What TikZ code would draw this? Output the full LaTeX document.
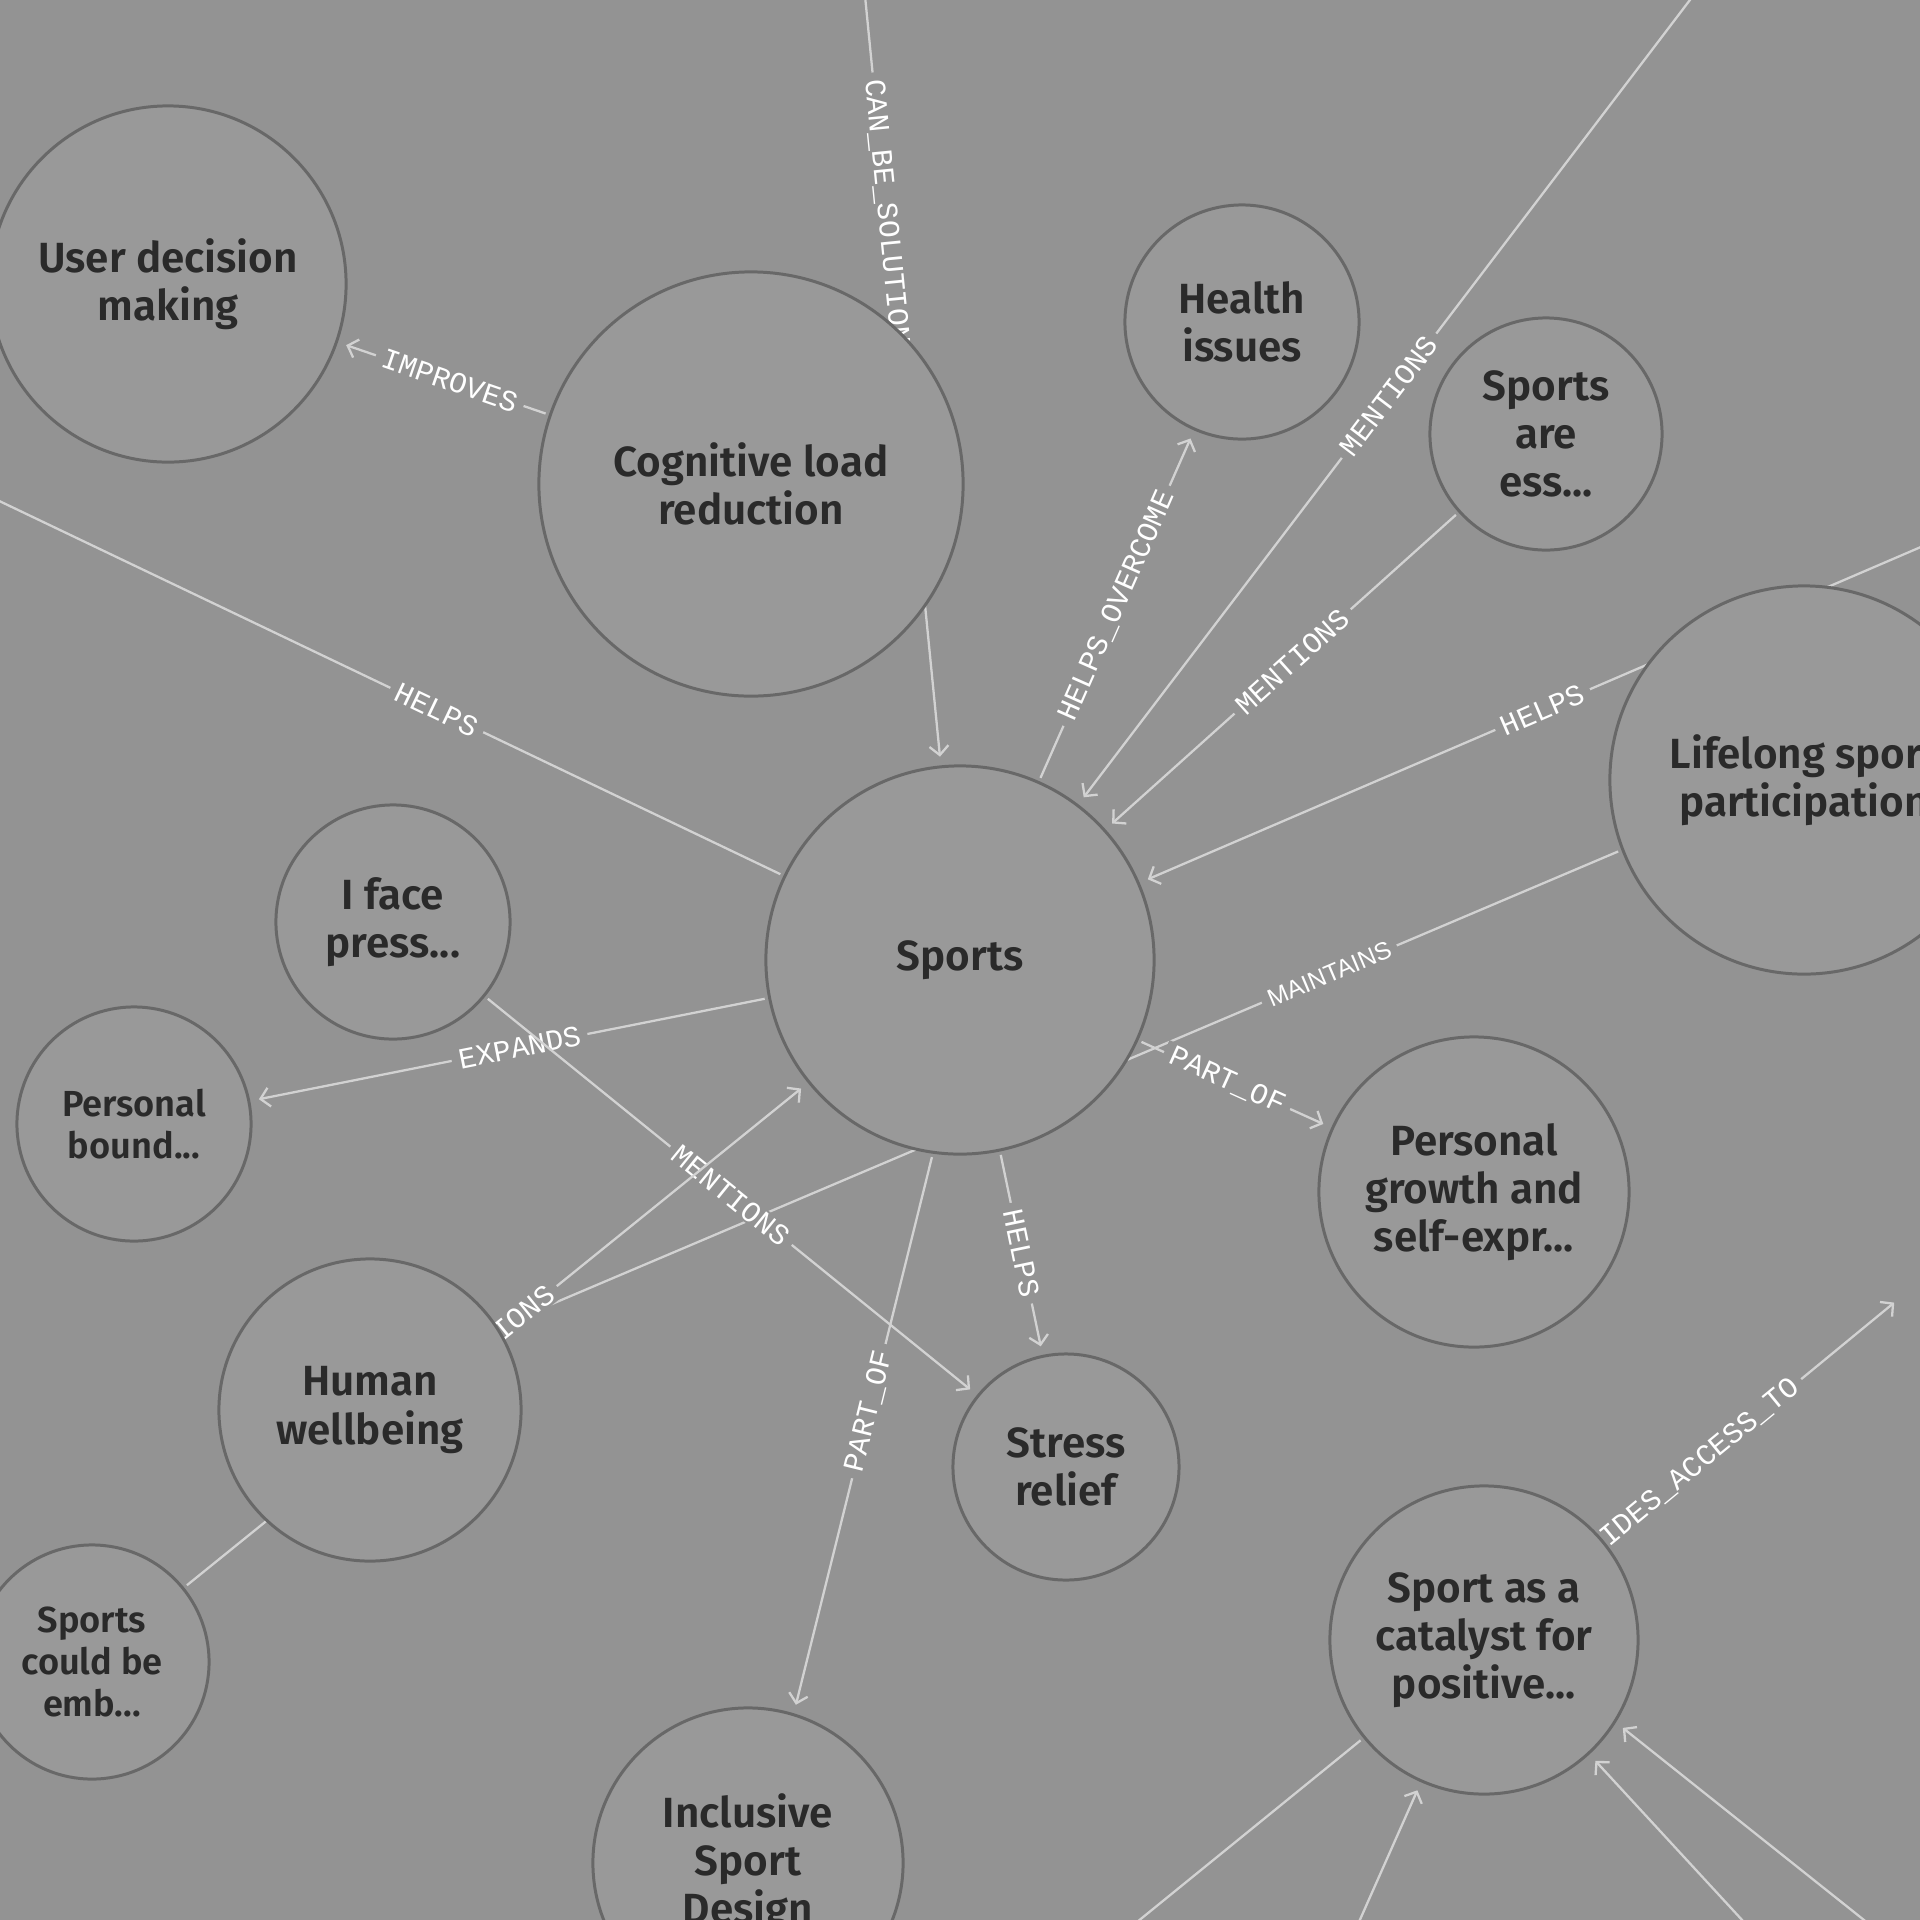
\documentclass[tikz,border=0pt]{standalone}
\usepackage{fontspec}
\newfontfamily\nodefont{Fira Sans SemiBold}
\newfontfamily\relfont{Liberation Mono}
\newfontfamily\thinfont{Liberation Sans}
\definecolor{canvasgray}{RGB}{147,147,147}
\definecolor{nodegray}{RGB}{153,153,153}
\definecolor{rimgray}{RGB}{104,104,104}
\definecolor{inkgray}{RGB}{42,42,42}
\definecolor{wiregray}{RGB}{210,210,210}
\usetikzlibrary{
  arrows.meta,
  backgrounds
}
\tikzset{
  concept/.style={circle, draw=rimgray, fill=nodegray, line width=0.85pt, text=inkgray,
        align=center, inner sep=0pt, font=\nodefont\fontsize{12}{13.7}\selectfont},
  small concept/.style={concept, font=\nodefont\fontsize{10.3}{12}\selectfont},
  rel/.style={draw=wiregray, line width=0.65pt, shorten <=1pt, shorten >=2.5pt,
        -{Straight Barb[length=0.9mm, width=1.9mm]}},
  tag/.style={sloped, fill=canvasgray, text=white, inner xsep=2pt, inner ysep=0.5pt,
        font=\relfont\fontsize{8.4}{9}\selectfont},
  thin tag/.style={tag, font=\thinfont\fontsize{7}{8}\selectfont}
}

\begin{document}
\begin{tikzpicture}[x=0.01cm, y=-0.01cm]
\useasboundingbox (0,0) rectangle (1920,1920);

\node[concept, minimum size=3.56cm] (ud) at (168,284) {User decision\\making};
\node[concept, minimum size=4.24cm] (cog) at (751,484) {Cognitive load\\reduction};
\node[concept, minimum size=2.34cm] (health) at (1242,322) {Health\\issues};
\node[concept, minimum size=2.32cm] (ess) at (1546,434) {Sports\\are\\ess...};
\node[concept, minimum size=3.88cm] (life) at (1804,780) {Lifelong sport\\participation};
\node[concept, minimum size=3.88cm] (sports) at (960,960) {Sports};
\node[concept, minimum size=2.34cm] (iface) at (393,922) {I face\\press...};
\node[small concept, minimum size=2.34cm] (pbound) at (134,1124) {Personal\\bound...};
\node[concept, minimum size=3.02cm] (hw) at (370,1410) {Human\\wellbeing};
\node[small concept, minimum size=2.34cm] (semb) at (92,1662) {Sports\\could be\\emb...};
\node[concept, minimum size=3.10cm] (incl) at (748,1863) {Inclusive\\Sport\\Design};
\node[concept, minimum size=2.26cm] (stress) at (1066,1467) {Stress\\relief};
\node[concept, minimum size=3.10cm] (pgrowth) at (1474,1192) {Personal\\growth and\\self-expr...};
\node[concept, minimum size=3.08cm] (cat) at (1484,1640) {Sport as a\\catalyst for\\positive...};

% ends that lie outside the frame
\coordinate (cbs) at (826,-400);
\coordinate (offL) at (-300,358);
\coordinate (offTR) at (1918,-300);
\coordinate (offR) at (2200,427);
\coordinate (prov) at (1901,1297);
\coordinate (offB1) at (918,2100);
\coordinate (offB2) at (1280,2100);
\coordinate (offB3) at (1908,2100);
\coordinate (offB4) at (2090,2100);

\begin{scope}[on background layer]
\fill[canvasgray] (0,0) rectangle (1920,1920);
\draw[rel] (cbs) -- (sports) node[tag, pos=0.525] {CAN\_BE\_SOLUTION};
\draw[rel] (cog) -- (ud) node[tag, pos=0.47] {IMPROVES};
\draw[rel] (sports) -- (offL) node[tag, pos=0.32] {HELPS};
\draw[rel] (sports) -- (health) node[tag, pos=0.5] {HELPS\_OVERCOME};
\draw[rel] (offTR) -- (sports) node[tag, pos=0.63] {MENTIONS};
\draw[rel] (ess) -- (sports) node[tag, pos=0.47] {MENTIONS};
\draw[rel] (offR) -- (sports) node[tag, pos=0.62] {HELPS};
\draw[rel] (life.201) -- (hw.33) node[thin tag, pos=0.26] {MAINTAINS};
\draw[rel] (sports) -- (pgrowth) node[tag, pos=0.46] {PART\_OF};
\draw[rel] (sports) -- (stress) node[tag, pos=0.5] {HELPS};
\draw[rel] (sports.262) -- (incl.73.5) node[tag, pos=0.46] {PART\_OF};
\draw[rel] (sports) -- (pbound) node[tag, pos=0.48] {EXPANDS};
\draw[rel] (iface) -- (stress) node[tag, pos=0.5] {MENTIONS};
\draw[rel] (semb) -- (sports) node[tag, pos=0.5] {MENTIONS};
\draw[rel] (cat) -- (prov) node[tag, pos=0.23] {PROVIDES\_ACCESS\_TO};
\draw[rel] (cat) -- (offB1);
\draw[rel] (offB2) -- (cat);
\draw[rel] (offB3) -- (cat);
\draw[rel] (offB4) -- (cat.328.5);
\end{scope}
\end{tikzpicture}
\end{document}
